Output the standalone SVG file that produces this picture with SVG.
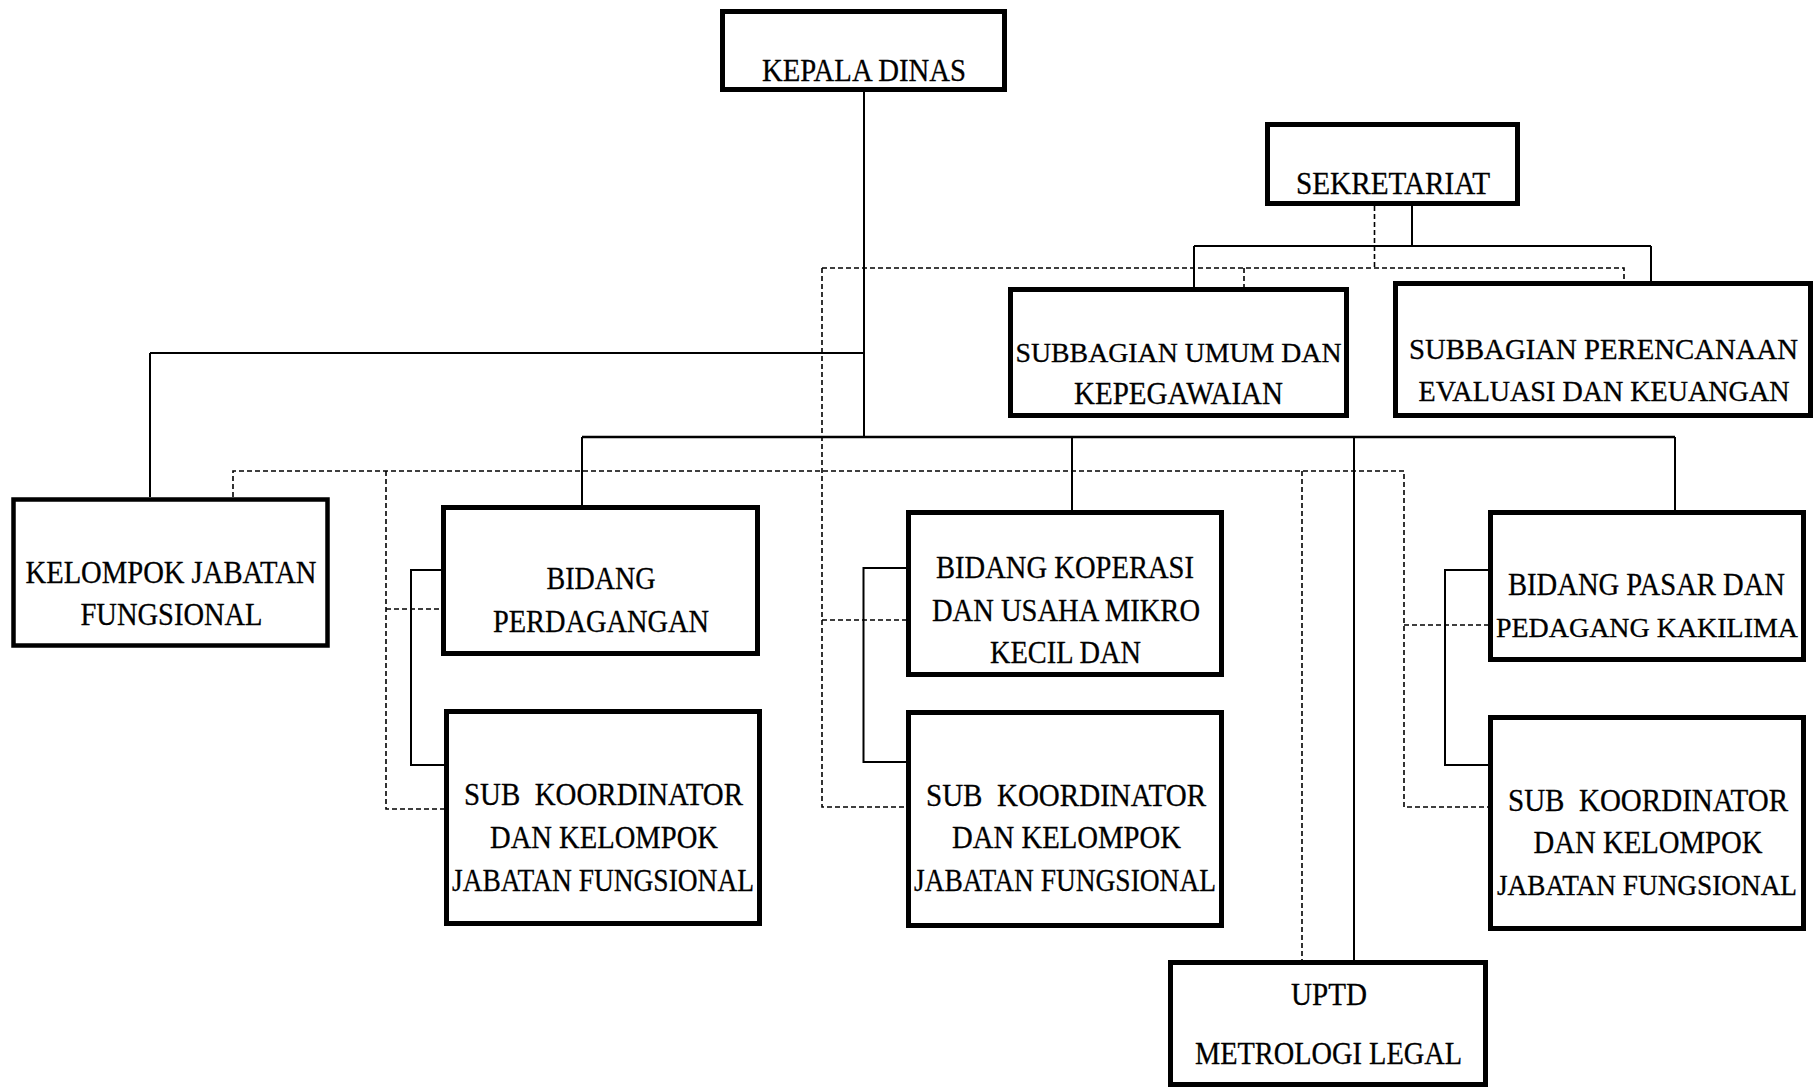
<svg xmlns="http://www.w3.org/2000/svg" width="1816" height="1088" viewBox="0 0 1816 1088">
<style>
.box{fill:#fff;stroke:#000;stroke-width:5}
.t{font-family:"Liberation Serif","Times New Roman",serif;font-size:32px;fill:#000;stroke:#000;stroke-width:0.3;text-anchor:middle}
.s{fill:none;stroke:#000;stroke-width:2}
.d{fill:none;stroke:#000;stroke-width:1.6;stroke-dasharray:5 3}
</style>
<rect width="1816" height="1088" fill="#fff"/>
<g id="connectors">
<path class="s" d="M864,92 V437 M150,353 H864 M150,353 V497 M582,437 V505 M1072,437 V510 M1354,437 V960 M1675,437 V510 M1412,206 V246 M1194,246 H1651 M1194,246 V287 M1651,246 V281 M441,570 H411 V765 H444 M907,568 H863.5 V762 H907 M1488,570 H1445 V765 H1490"/>
<path class="s" style="stroke-width:2.6" d="M582,437 H1675"/>
<path class="d" d="M1374.5,206 V268 M822,268 H1624 V281 M1244,268 V287 M822,268 V807 H907 M822,620 H907 M233,497 V471 H1404 V807 H1490 M1404,625 H1488 M386,471 V809 H444 M386,609 H441 M1302,471 V960"/>
</g>
<g id="kepala-dinas"><rect class="box" x="722.5" y="11.5" width="282" height="78"/><text class="t" x="864" y="81" textLength="204" lengthAdjust="spacingAndGlyphs">KEPALA DINAS</text></g>
<g id="sekretariat"><rect class="box" x="1267.5" y="124.5" width="250" height="79"/><text class="t" x="1393" y="194" textLength="194" lengthAdjust="spacingAndGlyphs">SEKRETARIAT</text></g>
<g id="subbagian-umum"><rect class="box" x="1010.5" y="289.5" width="336" height="126"/><text class="t" x="1178.5" y="362" style="font-size:28px" textLength="326" lengthAdjust="spacingAndGlyphs">SUBBAGIAN UMUM DAN</text><text class="t" x="1178.5" y="404" textLength="209" lengthAdjust="spacingAndGlyphs">KEPEGAWAIAN</text></g>
<g id="subbagian-perencanaan"><rect class="box" x="1395.5" y="283.5" width="415" height="132"/><text class="t" x="1603.5" y="359" style="font-size:29.5px" textLength="389" lengthAdjust="spacingAndGlyphs">SUBBAGIAN PERENCANAAN</text><text class="t" x="1604" y="401" style="font-size:29.5px" textLength="371" lengthAdjust="spacingAndGlyphs">EVALUASI DAN KEUANGAN</text></g>
<g id="kelompok-jabatan"><rect class="box" x="13.5" y="499.5" width="314" height="146" style="stroke-width:4.5"/><text class="t" x="171" y="583" textLength="291" lengthAdjust="spacingAndGlyphs">KELOMPOK JABATAN</text><text class="t" x="171.5" y="625" textLength="182" lengthAdjust="spacingAndGlyphs">FUNGSIONAL</text></g>
<g id="bidang-perdagangan"><rect class="box" x="443.5" y="507.5" width="314" height="146"/><text class="t" x="601" y="589" textLength="109" lengthAdjust="spacingAndGlyphs">BIDANG</text><text class="t" x="601" y="632" textLength="216" lengthAdjust="spacingAndGlyphs">PERDAGANGAN</text></g>
<g id="sub-koordinator-1"><rect class="box" x="446.5" y="711.5" width="313" height="212"/><text class="t" x="603.5" y="805" textLength="279" lengthAdjust="spacingAndGlyphs" xml:space="preserve">SUB  KOORDINATOR</text><text class="t" x="604" y="848" textLength="228" lengthAdjust="spacingAndGlyphs">DAN KELOMPOK</text><text class="t" x="603" y="891" textLength="302" lengthAdjust="spacingAndGlyphs">JABATAN FUNGSIONAL</text></g>
<g id="bidang-koperasi"><rect class="box" x="908.5" y="512.5" width="313" height="162"/><text class="t" x="1065" y="578" textLength="258" lengthAdjust="spacingAndGlyphs">BIDANG KOPERASI</text><text class="t" x="1066" y="621" textLength="268" lengthAdjust="spacingAndGlyphs">DAN USAHA MIKRO</text><text class="t" x="1065.5" y="663" textLength="151" lengthAdjust="spacingAndGlyphs">KECIL DAN</text></g>
<g id="sub-koordinator-2"><rect class="box" x="908.5" y="712.5" width="313" height="213"/><text class="t" x="1066" y="806" textLength="280" lengthAdjust="spacingAndGlyphs" xml:space="preserve">SUB  KOORDINATOR</text><text class="t" x="1066.5" y="848" textLength="229" lengthAdjust="spacingAndGlyphs">DAN KELOMPOK</text><text class="t" x="1065" y="891" textLength="302" lengthAdjust="spacingAndGlyphs">JABATAN FUNGSIONAL</text></g>
<g id="bidang-pasar"><rect class="box" x="1490.5" y="512.5" width="313" height="147"/><text class="t" x="1646.5" y="595" textLength="277" lengthAdjust="spacingAndGlyphs">BIDANG PASAR DAN</text><text class="t" x="1647" y="637" style="font-size:28px" textLength="302" lengthAdjust="spacingAndGlyphs">PEDAGANG KAKILIMA</text></g>
<g id="sub-koordinator-3"><rect class="box" x="1490.5" y="717.5" width="313" height="211"/><text class="t" x="1648" y="811" textLength="280" lengthAdjust="spacingAndGlyphs" xml:space="preserve">SUB  KOORDINATOR</text><text class="t" x="1648" y="853" textLength="229" lengthAdjust="spacingAndGlyphs">DAN KELOMPOK</text><text class="t" x="1647" y="895" style="font-size:29px" textLength="300" lengthAdjust="spacingAndGlyphs">JABATAN FUNGSIONAL</text></g>
<g id="uptd"><rect class="box" x="1170.5" y="962.5" width="315" height="122"/><text class="t" x="1329" y="1005" textLength="76" lengthAdjust="spacingAndGlyphs">UPTD</text><text class="t" x="1328.5" y="1064" textLength="267" lengthAdjust="spacingAndGlyphs">METROLOGI LEGAL</text></g>
</svg>
